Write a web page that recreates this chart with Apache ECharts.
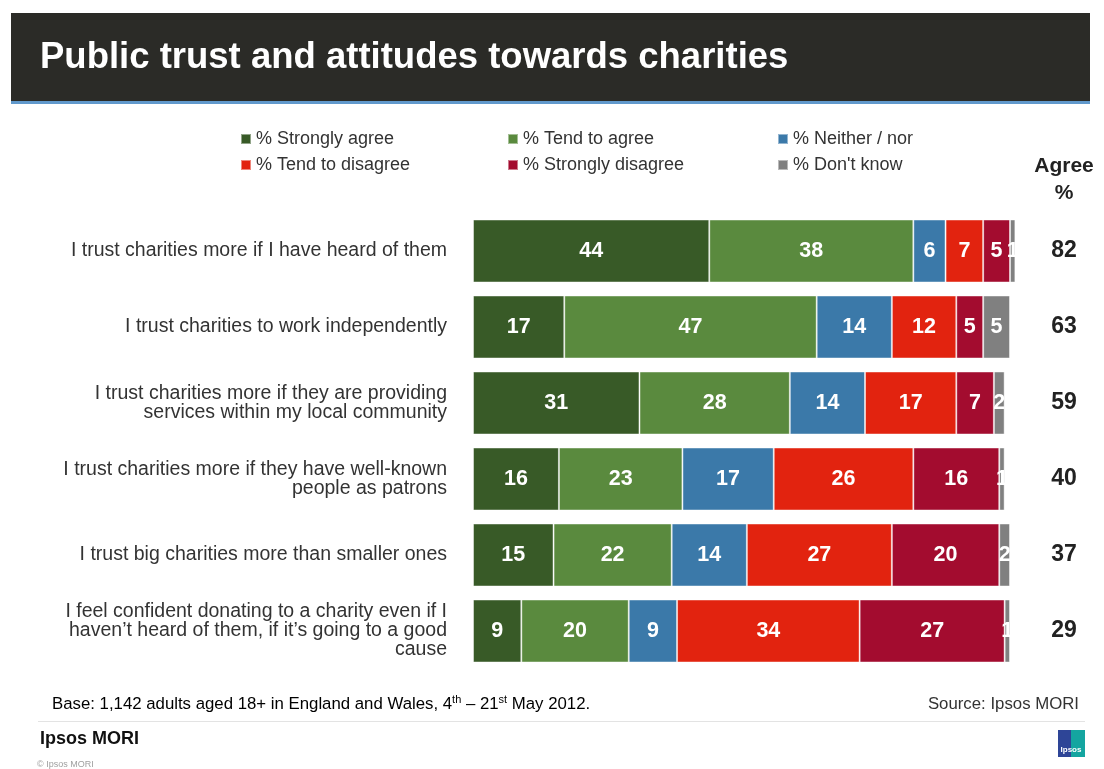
<!DOCTYPE html>
<html>
<head>
<meta charset="utf-8">
<script src="https://cdn.jsdelivr.net/npm/echarts@6/dist/echarts.min.js"></script>
<style>
  html, body { margin: 0; padding: 0; background: #ffffff; }
  #chart { width: 1104px; height: 769px; }
</style>
</head>
<body>
<div id="chart"></div>
<script>
// Statements shown, top to bottom
const categories = [
  'I trust charities more if I have heard of them',
  'I trust charities to work independently',
  'I trust charities more if they are providing\nservices within my local community',
  'I trust charities more if they have well-known\npeople as patrons',
  'I trust big charities more than smaller ones',
  'I feel confident donating to a charity even if I\nhaven\u2019t heard of them, if it\u2019s going to a good\ncause'
];

// Response shares (%) per statement
const stronglyAgree    = [44, 17, 31, 16, 15, 9];
const tendToAgree      = [38, 47, 28, 23, 22, 20];
const neitherNor       = [6, 14, 14, 17, 14, 9];
const tendToDisagree   = [7, 12, 17, 26, 27, 34];
const stronglyDisagree = [5, 5, 7, 16, 20, 27];
const dontKnow         = [1, 5, 2, 1, 2, 1];

// Net agree column
const agreePct = [82, 63, 59, 40, 37, 29];

const seriesNames = ['% Strongly agree', '% Tend to agree', '% Neither / nor',
                     '% Tend to disagree', '% Strongly disagree', "% Don't know"];
const seriesValues = [stronglyAgree, tendToAgree, neitherNor, tendToDisagree, stronglyDisagree, dontKnow];
const seriesColors = ['#385a27', '#5a8a3e', '#3b79a9', '#e2230f', '#a30c2f', '#808080'];

const FONT = '"Liberation Sans", Arial, Helvetica, sans-serif';

const chart = echarts.init(document.getElementById('chart'), null, { renderer: 'canvas' });

// Legend laid out as a 3 x 2 block
const legendSlots = [
  { left: 240, top: 130 }, { left: 507, top: 130 }, { left: 777, top: 130 },
  { left: 240, top: 156 }, { left: 507, top: 156 }, { left: 777, top: 156 }
];
const legends = seriesNames.map((name, i) => ({
  data: [name],
  left: legendSlots[i].left,
  top: legendSlots[i].top,
  padding: 0,
  icon: 'rect',
  itemWidth: 10,
  itemHeight: 10,
  selectedMode: false,
  textStyle: { fontFamily: FONT, fontSize: 18, color: '#333333' }
}));

const series = seriesNames.map((name, i) => ({
  name: name,
  type: 'bar',
  stack: 'total',
  barWidth: 63,
  clip: false,
  data: seriesValues[i],
  itemStyle: {
    color: seriesColors[i],
    borderColor: 'rgba(255,255,255,0.45)',
    borderWidth: 1
  },
  label: {
    show: true,
    position: 'inside',
    formatter: '{c}',
    fontFamily: FONT,
    fontSize: 21.5,
    fontWeight: 'bold',
    color: '#ffffff'
  },
  emphasis: { disabled: true }
}));

chart.setOption({
  animation: false,
  backgroundColor: '#ffffff',
  legend: legends,
  grid: { left: 473, top: 213, width: 537, height: 456, containLabel: false },
  xAxis: {
    type: 'value',
    min: 0,
    max: 100,
    show: false
  },
  yAxis: [
    {
      type: 'category',
      data: categories,
      inverse: true,
      axisLine: { show: false },
      axisTick: { show: false },
      axisLabel: {
        margin: 26,
        fontFamily: FONT,
        fontSize: 19.5,
        lineHeight: 19,
        color: '#333333',
        align: 'right'
      }
    },
    {
      type: 'category',
      data: agreePct.map(String),
      inverse: true,
      position: 'right',
      axisLine: { show: false },
      axisTick: { show: false },
      axisLabel: {
        margin: 54,
        align: 'center',
        fontFamily: FONT,
        fontSize: 23,
        fontWeight: 'bold',
        color: '#222222'
      }
    }
  ],
  series: series,
  graphic: [
    // Title band
    { type: 'rect', shape: { x: 11, y: 13, width: 1079, height: 88 }, style: { fill: '#2b2b27' }, silent: true },
    { type: 'rect', shape: { x: 11, y: 101, width: 1079, height: 3 }, style: { fill: '#6199cc' }, silent: true },
    {
      type: 'text', x: 40, y: 58, silent: true,
      style: { text: 'Public trust and attitudes towards charities', fill: '#ffffff',
               font: 'bold 36.5px ' + FONT, verticalAlign: 'middle' }
    },
    // Agree % column header
    {
      type: 'text', x: 1064, y: 166, silent: true,
      style: { text: 'Agree', fill: '#222222', font: 'bold 21px ' + FONT,
               align: 'center', verticalAlign: 'middle' }
    },
    {
      type: 'text', x: 1064, y: 193, silent: true,
      style: { text: '%', fill: '#222222', font: 'bold 21px ' + FONT,
               align: 'center', verticalAlign: 'middle' }
    },
    // Footer
    {
      type: 'text', x: 52, y: 704, silent: true,
      style: {
        text: '{a|Base: 1,142 adults aged 18+ in England and Wales, 4}{s|th}{a| \u2013 21}{s|st}{a| May 2012.}',
        verticalAlign: 'middle',
        rich: {
          a: { fontFamily: FONT, fontSize: 16.8, color: '#333333', lineHeight: 19 },
          s: { fontFamily: FONT, fontSize: 11, color: '#333333', verticalAlign: 'top', lineHeight: 11 }
        }
      }
    },
    {
      type: 'text', x: 1079, y: 704, silent: true,
      style: { text: 'Source: Ipsos MORI', fill: '#333333', font: '16.8px ' + FONT,
               align: 'right', verticalAlign: 'middle' }
    },
    { type: 'rect', shape: { x: 38, y: 721, width: 1047, height: 1 }, style: { fill: '#e3e3e3' }, silent: true },
    {
      type: 'text', x: 40, y: 739, silent: true,
      style: { text: 'Ipsos MORI', fill: '#111111', font: 'bold 18px ' + FONT,
               verticalAlign: 'middle' }
    },
    {
      type: 'text', x: 37, y: 765, silent: true,
      style: { text: '\u00a9 Ipsos MORI', fill: '#a0a0a0', font: '9px ' + FONT,
               verticalAlign: 'middle' }
    },
    // Ipsos badge
    { type: 'rect', shape: { x: 1058, y: 730, width: 27, height: 27 }, style: { fill: '#2e4597' }, silent: true },
    { type: 'rect', shape: { x: 1071, y: 730, width: 14, height: 27 }, style: { fill: '#14a5a0' }, silent: true },
    {
      type: 'text', x: 1071, y: 750, silent: true,
      style: { text: 'Ipsos', fill: '#ffffff', font: 'bold 8px ' + FONT,
               align: 'center', verticalAlign: 'middle' }
    }
  ]
});
</script>
</body>
</html>
